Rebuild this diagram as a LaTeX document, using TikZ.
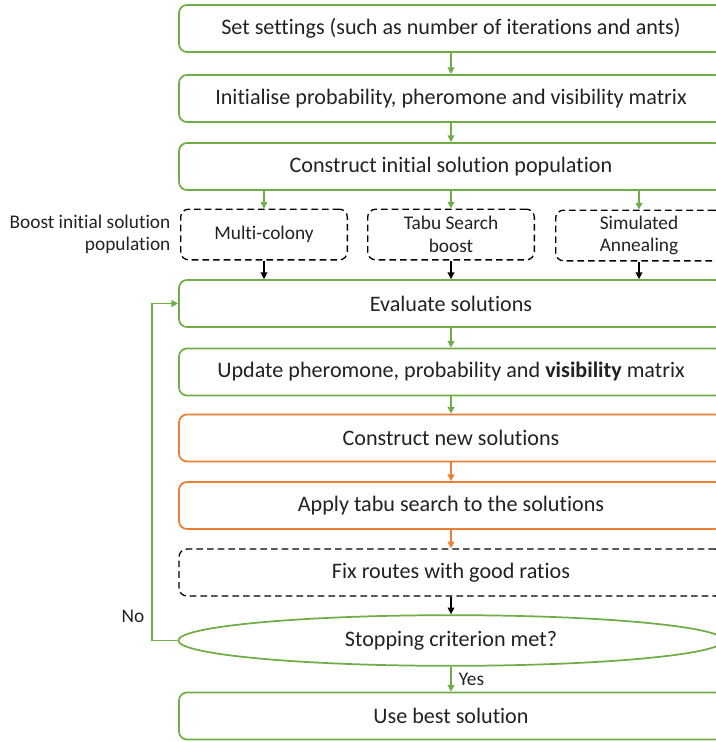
\documentclass[tikz,border=0pt]{standalone}
\usepackage{fontspec}
\setmainfont{Carlito}[Ligatures=NoCommon]
\usetikzlibrary{arrows.meta,shapes.geometric}
\definecolor{leaf}{HTML}{70AD47}
\definecolor{tangerine}{HTML}{ED7D31}
\definecolor{ink}{HTML}{222222}
\tikzset{
  basebox/.style={rectangle, rounded corners=6pt, line width=1.3pt, fill=white,
    text=ink, font=\fontsize{16.6}{19}\selectfont, minimum width=408pt, minimum height=35.25pt},
  gbox/.style={basebox, draw=leaf},
  obox/.style={basebox, draw=tangerine},
  dbox/.style={basebox, draw=black, line width=1pt, dash pattern=on 5pt off 3pt},
  sbox/.style={rectangle, rounded corners=6pt, draw=black, line width=1pt, dash pattern=on 5pt off 3pt,
    fill=white, text=ink, font=\fontsize{14.5}{17}\selectfont, align=center,
    minimum width=125pt, minimum height=38pt, inner sep=1pt},
  stopnode/.style={ellipse, draw=leaf, line width=1.3pt, fill=white, text=ink,
    font=\fontsize{16.6}{19}\selectfont, minimum width=409pt, minimum height=38pt, inner sep=0pt},
  garrow/.style={draw=leaf, line width=1.2pt, -{Triangle[width=5pt,length=5pt]}},
  oarrow/.style={draw=tangerine, line width=1.2pt, -{Triangle[width=5pt,length=5pt]}},
  karrow/.style={draw=black, line width=1pt, -{Triangle[width=5pt,length=5pt]}},
  lbl/.style={text=ink, font=\fontsize{14.5}{17}\selectfont}
}
\begin{document}
\begin{tikzpicture}[x=0.75pt, y=-0.75pt]
\useasboundingbox (0,0) rectangle (716,742);
\clip (0,0) rectangle (716,742);

% main column
\node[gbox] (set)  at (451,28.5)  {Set settings (such as number of iterations and ants)};
\node[gbox] (init) at (451,98.5)  {Initialise probability, pheromone and visibility matrix};
\node[gbox] (cons) at (451,166.5) {Construct initial solution population};

% boosting options
\node[sbox] (mc) at (264,234.5) {Multi-colony};
\node[sbox] (ts) at (451,234.5) {Tabu Search\\boost};
\node[sbox] (sa) at (639,235.5) {Simulated\\Annealing};
\node[lbl, align=right, anchor=east, inner sep=1pt] (boost) at (172,234.5) {Boost initial solution\\population};

\node[gbox] (eval) at (451,303.5) {Evaluate solutions};
\node[gbox] (upd)  at (451,372)   {Update pheromone, probability and \textbf{visibility} matrix};
\node[obox] (newc) at (451,438)   {Construct new solutions};
\node[obox] (tabu) at (451,505.5) {Apply tabu search to the solutions};
\node[dbox] (fix)  at (451,572.5) {Fix routes with good ratios};
\node[stopnode] (stop) at (451,640.5) {Stopping criterion met?};
\node[gbox] (best) at (451,716)   {Use best solution};

% connectors
\draw[garrow] (set) -- (init);
\draw[garrow] (init) -- (cons);
\draw[garrow] (cons.south -| mc) -- (mc);
\draw[garrow] (cons) -- (ts);
\draw[garrow] (cons.south -| sa) -- (sa);
\draw[karrow] (mc) -- (eval.north -| mc);
\draw[karrow] (ts) -- (eval);
\draw[karrow] (sa) -- (eval.north -| sa);
\draw[garrow] (eval) -- (upd);
\draw[garrow] (upd) -- (newc);
\draw[oarrow] (newc) -- (tabu);
\draw[oarrow] (tabu) -- (fix);
\draw[karrow] (fix) -- (stop);
\draw[garrow] (stop) -- node[lbl, right, xshift=2pt] (yes) {Yes} (best);

\coordinate (loopb) at (152,640.5);
\coordinate (loopt) at (152,303.5);
\draw[garrow] (stop.west) -- (loopb) -- (loopt) -- (eval.west);
\node[lbl] (no) at (133,616) {No};
\end{tikzpicture}
\end{document}
